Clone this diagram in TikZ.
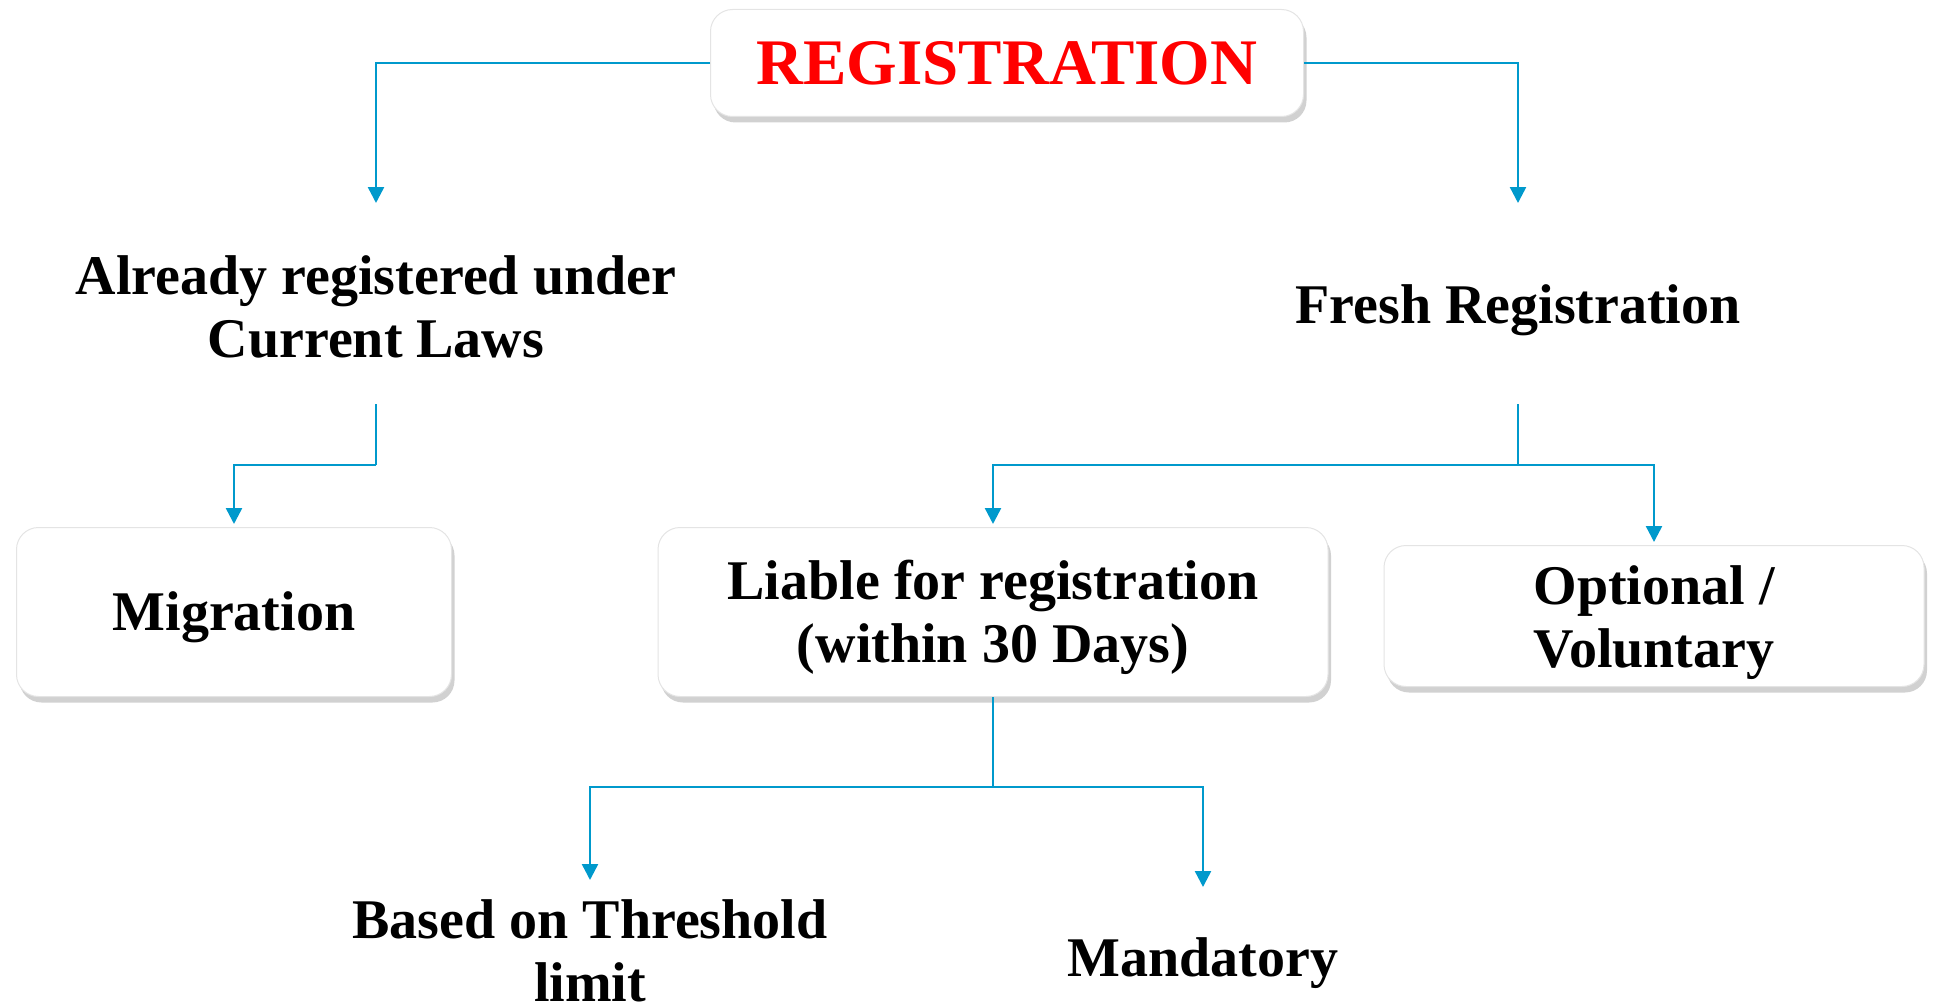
\documentclass[tikz,border=0pt]{standalone}
\usepackage{fontspec}
\setmainfont{Liberation Serif}
\usetikzlibrary{arrows.meta,shadows}
\definecolor{linkblue}{RGB}{0,153,204}
\definecolor{boxedge}{RGB}{228,228,228}
\newcommand\lowertxt[2]{\raisebox{-#1}[\height][\depth]{#2}}
\begin{document}
\begin{tikzpicture}[x=1pt,y=-1pt,
  txt/.style={font=\bfseries\fontsize{56}{63}\selectfont},
  box/.style={draw=boxedge,line width=1pt,fill=white,rounded corners=22pt,
    drop shadow={shadow xshift=3pt,shadow yshift=-6pt,opacity=0.3,fill=black!60},
    align=center,txt},
  lbl/.style={align=center,txt},
  link/.style={draw=linkblue,line width=2.5pt},
  arr/.style={link,-{Triangle[width=16pt,length=16pt]}}]
\useasboundingbox (0,0) rectangle (1933,1006);
\node[box,minimum width=593pt,minimum height=107pt,text=red,
  font=\bfseries\fontsize{65}{75}\selectfont] (reg) at (1007,63) {REGISTRATION};
\node[lbl] (already) at (376,307) {Already registered under\\Current Laws};
\node[lbl] (fresh) at (1518,310) {Fresh Registration};
\node[box,minimum width=435pt,minimum height=169pt] (mig) at (234,612) {\lowertxt{5pt}{Migration}};
\node[box,minimum width=670pt,minimum height=169pt] (liable) at (993,612) {\lowertxt{5pt}{Liable for registration}\\\lowertxt{5pt}{(within 30 Days)}};
\node[box,minimum width=540pt,minimum height=141pt] (opt) at (1654,616) {\lowertxt{7pt}{Optional /}\\\lowertxt{7pt}{Voluntary}};
\node[lbl] (based) at (590,951) {Based on Threshold\\limit};
\node[lbl] (mand) at (1203,963) {Mandatory};
\coordinate (aIn) at (376,203);
\coordinate (fIn) at (1518,203);
\coordinate (aOut) at (376,404);
\coordinate (fOut) at (1518,404);
\coordinate (aMid) at (376,465);
\coordinate (fMid) at (1518,465);
\coordinate (lMid) at (993,787);
\coordinate (bIn) at (590,880);
\coordinate (mIn) at (1203,887);
\draw[arr] (reg.west) -| (aIn);
\draw[arr] (reg.east) -| (fIn);
\draw[link] (aOut) -- (aMid);
\draw[arr,shorten >=3pt] (aMid) -| (mig.north);
\draw[link] (fOut) -- (fMid);
\draw[arr,shorten >=3pt] (fMid) -| (liable.north);
\draw[arr,shorten >=3pt] (fMid) -| (opt.north);
\draw[link] (liable.south) -- (lMid);
\draw[arr] (lMid) -| (bIn);
\draw[arr] (lMid) -| (mIn);
\end{tikzpicture}
\end{document}
